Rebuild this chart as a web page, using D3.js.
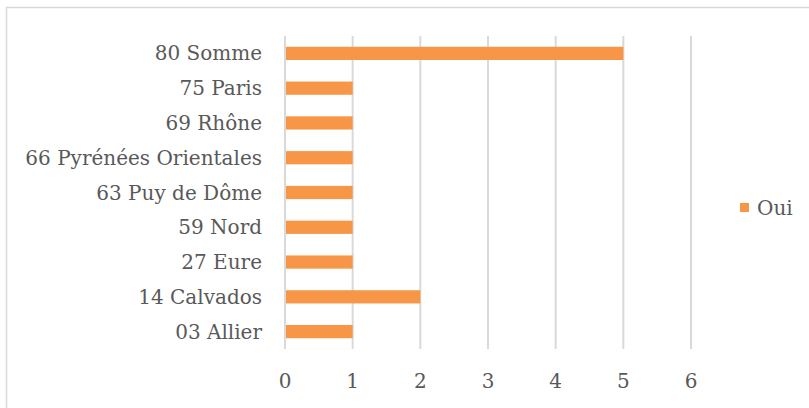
<!DOCTYPE html>
<html>
<head>
	<meta charset="utf-8">
	<script src="https://d3js.org/d3.v7.min.js"></script>
	<title>Oui par département</title>
	<style>
		body { margin: 0; background: #fff; }
		text { font-family: "DejaVu Serif", "Liberation Serif", serif; fill: #595959; }
	</style>
</head>
<body>
	<div id="chart"></div>

	<script type="text/javascript">

		// departements, top to bottom
		var departements = ["80 Somme", "75 Paris", "69 Rhône", "66 Pyrénées Orientales",
			"63 Puy de Dôme", "59 Nord", "27 Eure", "14 Calvados", "03 Allier"];
		var oui = [5, 1, 1, 1, 1, 1, 1, 2, 1];
		var ticks = [0, 1, 2, 3, 4, 5, 6];
		var serie = "Oui";

		var svgwidth = 809;
		var svgheight = 408;

		var svg = d3.select("#chart").append("svg")
				.attr("width", svgwidth)
				.attr("height", svgheight);

		// outer frame (left and top only visible)
		svg.append("line").attr("x1", 6.5).attr("x2", 6.5).attr("y1", 7).attr("y2", svgheight)
			.attr("stroke", "#d9d9d9").attr("stroke-width", 1.5);
		svg.append("line").attr("x1", 6).attr("x2", svgwidth).attr("y1", 7.5).attr("y2", 7.5)
			.attr("stroke", "#d9d9d9").attr("stroke-width", 1.5);

		var xScale = d3.scaleLinear()
				.domain([0, 6])
				.range([285, 691]);

		var yScale = d3.scaleBand()
				.domain(departements)
				.range([36, 349])
				.paddingInner(0.62)
				.paddingOuter(0.31);

		// gridlines
		svg.selectAll(".grid").data(ticks).enter().append("line")
			.attr("class", "grid")
			.attr("x1", function(d){ return xScale(d); })
			.attr("x2", function(d){ return xScale(d); })
			.attr("y1", 36)
			.attr("y2", 349)
			.attr("stroke", "#d9d9d9")
			.attr("stroke-width", 2);

		// bars
		svg.selectAll(".bar").data(departements).enter().append("rect")
			.attr("class", "bar")
			.attr("x", xScale(0) + 1)
			.attr("y", function(d){ return yScale(d); })
			.attr("width", function(d, i){ return xScale(oui[i]) - xScale(0) - 1; })
			.attr("height", yScale.bandwidth())
			.attr("fill", "#f79646");

		// category labels
		svg.selectAll(".cat").data(departements).enter().append("text")
			.attr("class", "cat")
			.attr("x", 262)
			.attr("y", function(d){ return yScale(d) + yScale.bandwidth() / 2; })
			.attr("dy", "0.35em")
			.attr("text-anchor", "end")
			.attr("font-size", 20)
			.text(function(d){ return d; });

		// tick labels
		svg.selectAll(".tick").data(ticks).enter().append("text")
			.attr("class", "tick")
			.attr("x", function(d){ return xScale(d); })
			.attr("y", 381)
			.attr("dy", "0.35em")
			.attr("text-anchor", "middle")
			.attr("font-size", 20)
			.text(function(d){ return d; });

		// legend
		var legend = svg.append("g").attr("transform", "translate(740,203)");
		legend.append("rect").attr("width", 9).attr("height", 9).attr("fill", "#f79646");
		legend.append("text").attr("x", 17).attr("y", 4.5).attr("dy", "0.35em")
			.attr("font-size", 20).text(serie);

	</script>
</body>
</html>
